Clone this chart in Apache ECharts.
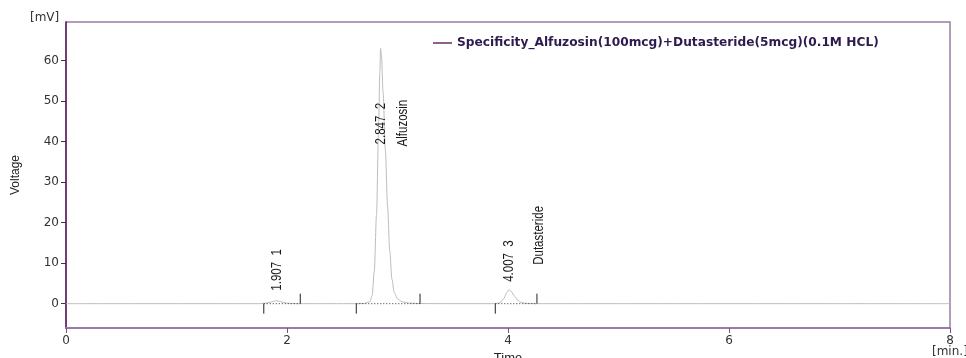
<!DOCTYPE html>
<html>
<head>
<meta charset="utf-8">
<script src="https://cdn.jsdelivr.net/npm/echarts@6/dist/echarts.min.js"></script>
<style>
html,body{margin:0;padding:0;background:#fff;}
#chart{width:966px;height:358px;}
</style>
</head>
<body>
<div id="chart"></div>
<script>
// ---- data ----
const seriesName = 'Specificity_Alfuzosin(100mcg)+Dutasteride(5mcg)(0.1M HCL)';
const traceTime = [0, 0.5, 1.0, 1.5, 1.75, 1.80, 1.85, 1.88, 1.907, 1.93, 1.96, 2.0, 2.05, 2.1, 2.2, 2.4, 2.6,
  2.70, 2.75, 2.77, 2.79, 2.81, 2.83, 2.84, 2.847, 2.855, 2.87, 2.89, 2.91, 2.93, 2.95, 2.97, 3.00, 3.04, 3.10, 3.20,
  3.5, 3.85, 3.90, 3.93, 3.96, 3.99, 4.007, 4.03, 4.06, 4.09, 4.12, 4.16, 4.25, 4.5, 5, 6, 7, 8];
const traceVoltage = [0, 0, 0, 0, 0, 0.1, 0.35, 0.6, 0.7, 0.6, 0.35, 0.15, 0.05, 0, 0, 0, 0,
  0.05, 0.5, 2, 8, 22, 45, 57, 63, 61, 52, 38, 24, 13, 6, 2.8, 1.2, 0.5, 0.15, 0.03,
  0, 0, 0.05, 0.3, 1.2, 2.8, 3.4, 3.0, 1.8, 0.8, 0.3, 0.08, 0, 0, 0, 0, 0, 0];
const peakTime = [1.907, 2.847, 4.007];
const peakNumber = ['1', '2', '3'];
const peakLabelAt = [3.2, 39.3, 5.4];          // voltage where the rotated label starts
const peakStart = [1.79, 2.627, 3.885];
const peakEnd = [2.12, 3.204, 4.262];
const compoundName = ['Alfuzosin', 'Dutasteride'];
const compoundTime = [3.05, 4.28];
const compoundLabelAt = [38.8, 9.6];
const xTicks = [0, 2, 4, 6, 8];
const yTicks = [0, 10, 20, 30, 40, 50, 60];

// ---- chart ----
const chart = echarts.init(document.getElementById('chart'), null, {renderer: 'canvas'});
const axisFont = 'DejaVu Sans, Arial, sans-serif';
const rotFont = '11.5px "Liberation Sans", Arial, sans-serif';

function rotatedText(px, py, text) {
  return {
    type: 'group', x: px, y: py, scaleX: 1.3,
    children: [{
      type: 'text', rotation: Math.PI / 2,
      style: {text: text, x: 0, y: 0, align: 'left', verticalAlign: 'middle',
              font: rotFont, fill: '#1a1a1a'}
    }]
  };
}

const option = {
  animation: false,
  backgroundColor: '#fff',
  grid: {left: 66, right: 16, top: 22, bottom: 30, show: true, borderColor: '#9a7ba3', borderWidth: 1.5,
         containLabel: false, outerBoundsMode: 'none'},
  legend: {
    left: 428, top: 32,
    itemWidth: 19, itemHeight: 1.5,
    data: [{name: seriesName, icon: 'rect', itemStyle: {color: '#6b2a6b'}}],
    textStyle: {fontFamily: axisFont, fontWeight: 'bold', fontSize: 12.2, color: '#2d1b4e', padding: [0, 0, 0, 0]}
  },
  xAxis: {
    type: 'value', min: 0, max: 8, interval: 2,
    name: 'Time', nameLocation: 'middle', nameGap: 22,
    nameTextStyle: {fontFamily: 'Arial, sans-serif', fontSize: 13, color: '#222'},
    axisLine: {onZero: false, lineStyle: {color: '#9a7ba3', width: 2}},
    axisTick: {show: true, length: 5, lineStyle: {color: '#7a4f85'}, customValues: xTicks},
    axisLabel: {margin: 7, fontFamily: axisFont, fontSize: 12, color: '#333', customValues: xTicks},
    splitLine: {show: false}
  },
  yAxis: {
    type: 'value', min: -6, max: 69.5,
    name: 'Voltage', nameLocation: 'middle', nameGap: 44, nameRotate: 90,
    nameTextStyle: {fontFamily: 'Arial, sans-serif', fontSize: 12, color: '#222'},
    axisLine: {show: true, onZero: false, lineStyle: {color: '#5b1f5e', width: 1.5}},
    axisTick: {show: true, length: 5, lineStyle: {color: '#5b1f5e'}, customValues: yTicks},
    axisLabel: {margin: 7, fontFamily: axisFont, fontSize: 12, color: '#333', customValues: yTicks},
    splitLine: {show: false}
  },
  graphic: [
    {type: 'text', left: 30, top: 12, style: {text: '[mV]', font: '12px ' + axisFont, fill: '#333'}},
    {type: 'text', left: 932, top: 346, style: {text: '[min.]', font: '12px ' + axisFont, fill: '#333'}}
  ],
  series: [
    {
      name: seriesName, type: 'line',
      data: traceTime.map((t, i) => [t, traceVoltage[i]]),
      showSymbol: false, smooth: 0.3, smoothMonotone: 'x',
      lineStyle: {color: '#bdbdbd', width: 1},
      itemStyle: {color: '#bdbdbd'},
      z: 2
    },
    {
      type: 'custom', name: 'integration', clip: false, silent: true, z: 3,
      encode: {x: [0, 1], y: 2},
      data: peakStart.map((s, i) => [s, peakEnd[i], 0]),
      renderItem: function (params, api) {
        const a = api.coord([api.value(0), 0]);
        const b = api.coord([api.value(1), 0]);
        return {
          type: 'group',
          children: [
            {type: 'line', shape: {x1: a[0], y1: a[1], x2: b[0], y2: b[1]},
             style: {stroke: '#333', lineWidth: 1, lineDash: [1, 2]}},
            {type: 'line', shape: {x1: a[0], y1: a[1], x2: a[0], y2: a[1] + 10},
             style: {stroke: '#222', lineWidth: 1}},
            {type: 'line', shape: {x1: b[0], y1: b[1] - 10, x2: b[0], y2: b[1]},
             style: {stroke: '#222', lineWidth: 1}}
          ]
        };
      }
    },
    {
      type: 'custom', name: 'peakLabels', clip: false, silent: true, z: 4,
      encode: {x: 0, y: 1},
      data: peakTime.map((t, i) => [t, peakLabelAt[i]]),
      renderItem: function (params, api) {
        const i = params.dataIndex;
        const p = api.coord([api.value(0), api.value(1)]);
        return rotatedText(p[0], p[1], peakTime[i].toFixed(3) + '  ' + peakNumber[i]);
      }
    },
    {
      type: 'custom', name: 'compoundLabels', clip: false, silent: true, z: 4,
      encode: {x: 0, y: 1},
      data: compoundTime.map((t, i) => [t, compoundLabelAt[i]]),
      renderItem: function (params, api) {
        const i = params.dataIndex;
        const p = api.coord([api.value(0), api.value(1)]);
        return rotatedText(p[0], p[1], compoundName[i]);
      }
    }
  ]
};
chart.setOption(option);
</script>
</body>
</html>
